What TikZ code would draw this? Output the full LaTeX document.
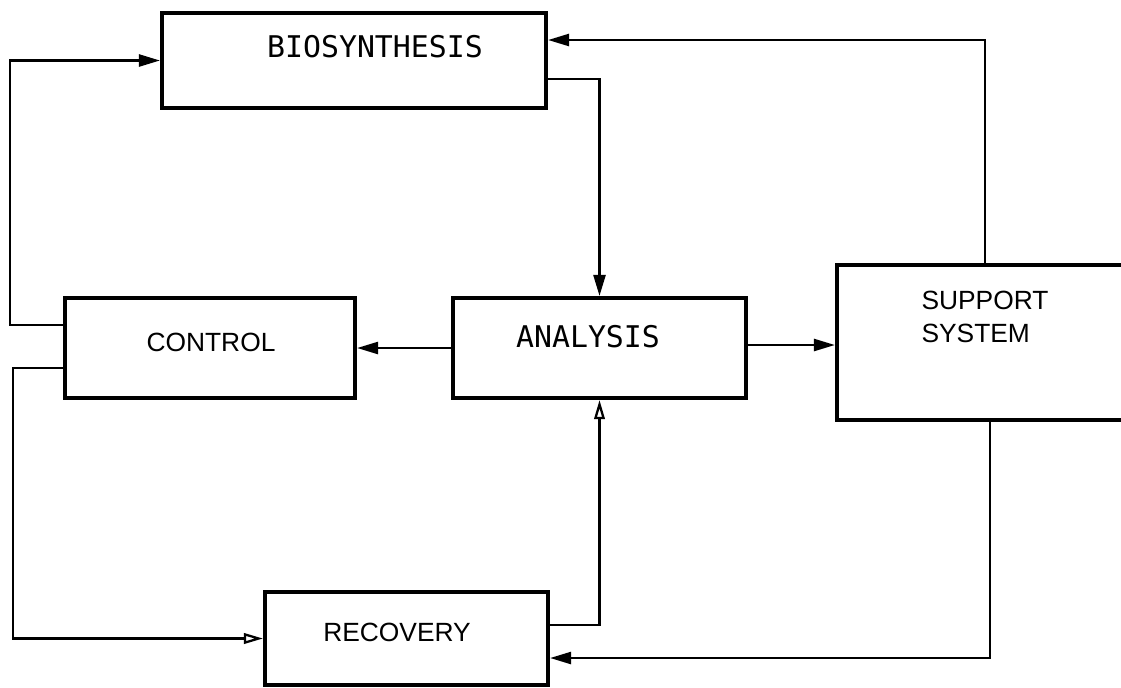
\documentclass[tikz,border=0pt]{standalone}
\usepackage{fontspec}
\setmainfont{Liberation Sans}
\newfontfamily\typefont{DejaVu Sans Mono}
\usepackage{tikz}
\usetikzlibrary{arrows.meta, positioning, calc}

\begin{document}
\begin{tikzpicture}[
    x=0.02cm, y=-0.02cm,
    block/.style={rectangle, draw=black, line width=2.4pt, minimum width=#1, inner sep=0pt},
    sanstext/.style={font=\fontsize{15}{18.7}\selectfont, align=left, inner sep=0pt},
    typetext/.style={font=\typefont\fontsize{17}{20}\selectfont, inner sep=0pt},
    arrow/.style={-{Triangle[length=4.2mm, width=2.4mm]}, line width=1.4pt},
    openarrow/.style={-{Triangle[open, length=3.8mm, width=2.1mm, line width=1.3pt]}, line width=1.4pt}
]
\clip (0,0) rectangle (1121,687);
% boxes
\node[block=7.68cm, minimum height=1.9cm] (bio) at (354,60.5) {};
\node[block=5.8cm, minimum height=2cm] (control) at (210,348) {};
\node[block=5.86cm, minimum height=2cm] (analysis) at (599.5,348) {};
\node[block=5.92cm, minimum height=3.1cm] (support) at (985,342.5) {};
\node[block=5.66cm, minimum height=1.86cm] (recovery) at (406.5,638.5) {};
% texts
\node[typetext] (biotext) at (375,47) {BIOSYNTHESIS};
\node[sanstext] (controltext) at (211,342) {CONTROL};
\node[typetext] (analysistext) at (588,337) {ANALYSIS};
\node[sanstext] (supporttext) at (985,317) {SUPPORT\\SYSTEM};
\node[sanstext] (recoverytext) at (397,632) {RECOVERY};
% connectors
\draw[arrow] (control.west |- 0,325) -- ++(-53,0) |- (bio.west);
\draw[openarrow] (control.west |- 0,368) -- ++(-50,0) |- (recovery.west);
\draw[arrow] (bio.east |- 0,79) -| (analysis.north);
\draw[arrow] (analysis.west) -- (control.east);
\draw[arrow] (analysis.east |- 0,345) -- (support.west |- 0,345);
\draw[arrow] (support.north) |- (bio.east |- 0,40);
\draw[arrow] (support.south -| 990,0) |- (recovery.east |- 0,658);
\draw[openarrow] (recovery.east |- 0,625) -| (analysis.south);
\end{tikzpicture}
\end{document}
